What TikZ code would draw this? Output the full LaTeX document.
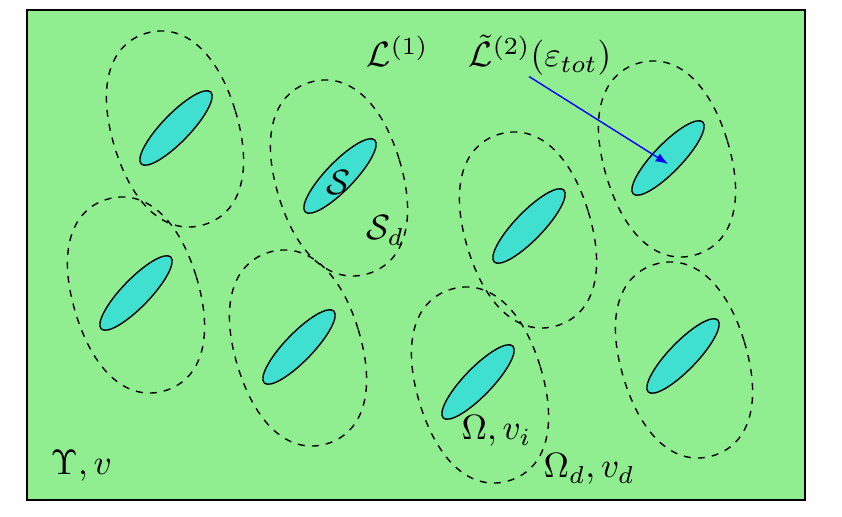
\documentclass[tikz,border=0pt]{standalone}
\usepackage{amsmath}
\usepackage{amssymb}
\usepackage{xcolor}
\usepackage{tikz}
\usetikzlibrary{shapes.geometric,arrows.meta}

\definecolor{bgc}{RGB}{144,238,144}
\definecolor{grainc}{RGB}{64,224,208}

\begin{document}
\begin{tikzpicture}[
  x=0.1mm, y=-0.1mm,
  font=\fontsize{10.4}{12}\selectfont,
  grain/.style ={draw,ellipse,fill=grainc,rotate=46,inner sep=0pt,
                 minimum width=10mm,minimum height=2.8mm},
  lbl/.style   ={inner sep=0pt,anchor=base west},
  dom/.pic     ={\draw[rotate=17,dash pattern=on 2pt off 2pt]
                 (63,0) .. controls (63,62) and (39,100) .. (0,100)
                 .. controls (-39,100) and (-63,62) .. (-63,0)
                 .. controls (-63,-62) and (-39,-100) .. (0,-100)
                 .. controls (39,-100) and (63,-62) .. (63,0) -- cycle;},
  >={Latex[length=3.5pt]}]

\useasboundingbox (0,0) rectangle (842,517);
\draw[fill=bgc] (27,10) rectangle (805,500);

% ---------- domains ----------
\pic (d1) at (175,129) {dom};
\pic (d2) at (339,178) {dom};
\pic (d3) at (136,295) {dom};
\pic (d4) at (298,348) {dom};
\pic (d5) at (528,230) {dom};
\pic (d6) at (667,159) {dom};
\pic (d7) at (480,385) {dom};
\pic (d8) at (684,360) {dom};

% ---------- grains ----------
\node[grain] (g1) at (176,128) {};
\node[grain] (g2) at (340,176) {};
\node[grain] (g3) at (136,293) {};
\node[grain] (g4) at (299,347) {};
\node[grain] (g5) at (529,226) {};
\node[grain] (g6) at (668,158) {};
\node[grain] (g7) at (478,382) {};
\node[grain] (g8) at (683,356) {};

% ---------- labels ----------
\node[lbl] (lt1) at (366,67) {$\mathcal{L}^{(1)}$};
\node[lbl] (lt2) at (468,67) {$\tilde{\mathcal{L}}^{(2)}(\varepsilon_{tot})$};
\node[inner sep=0pt] (ls) at (338,182) {$\mathcal{S}$};
\node[lbl] (lsd) at (366,240) {$\mathcal{S}_d$};
\node[lbl] (lom) at (461,440) {$\Omega, v_i$};
\node[lbl] (lomd) at (543,478) {$\Omega_d, v_d$};
\node[lbl] (lup) at (50,475) {$\Upsilon, v$};

\draw[->,blue] ([xshift=-1.1mm]lt2.south) -- ([yshift=-0.6mm]g6.center);

\end{tikzpicture}
\end{document}
